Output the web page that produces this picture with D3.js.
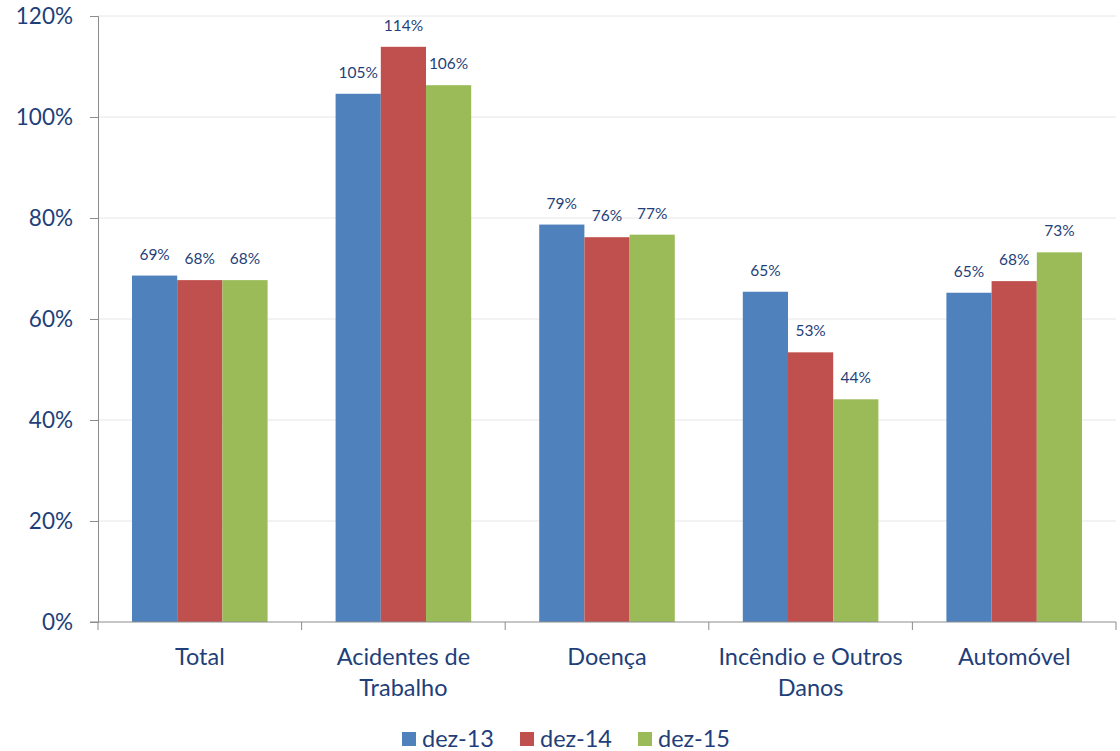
<!DOCTYPE html>
<html>
<head>
<meta charset="utf-8">
<script src="https://cdn.jsdelivr.net/npm/d3@7"></script>
<style>
  html, body { margin: 0; padding: 0; background: #fff; }
  svg { display: block; font-family: Lato, "Liberation Sans", sans-serif; }
</style>
</head>
<body>
<svg id="chart" width="1120" height="751"></svg>
<script>
// Claims ratio by line of business, three year-ends
const categories = [["Total"], ["Acidentes de", "Trabalho"], ["Doença"], ["Incêndio e Outros", "Danos"], ["Automóvel"]];
const seriesNames = ["dez-13", "dez-14", "dez-15"];
const dez13 = [0.686, 1.046, 0.787, 0.654, 0.652];
const dez14 = [0.677, 1.139, 0.762, 0.534, 0.675];
const dez15 = [0.677, 1.063, 0.767, 0.441, 0.732];
const yTicks = [0, 0.2, 0.4, 0.6, 0.8, 1.0, 1.2];
const colors = ["#4F81BD", "#C0504D", "#9BBB59"];
const textColor = "#1F3F7A";

const seriesValues = [dez13, dez14, dez15];
const svg = d3.select("#chart");
const plotLeft = 98, plotRight = 1116, plotTop = 16, plotBottom = 622;

const x = d3.scaleBand().domain(d3.range(categories.length)).range([plotLeft, plotRight]).paddingInner(0).paddingOuter(0);
const groupPad = 0.167;
const xs = d3.scaleBand().domain(d3.range(seriesNames.length))
  .range([x.bandwidth() * groupPad, x.bandwidth() * (1 - groupPad)]);
const y = d3.scaleLinear().domain([0, 1.2]).range([plotBottom, plotTop]);
const pct = d3.format(".0%");

// gridlines
svg.append("g").selectAll("line").data(yTicks.filter(d => d > 0)).join("line")
  .attr("x1", plotLeft).attr("x2", plotRight)
  .attr("y1", d => y(d)).attr("y2", d => y(d))
  .attr("stroke", "#e6e6e6").attr("stroke-width", 1);

// y axis
const yAxis = svg.append("g").attr("transform", `translate(${plotLeft},0)`)
  .call(d3.axisLeft(y).tickValues(yTicks).tickFormat(pct).tickSize(8).tickPadding(17));
yAxis.select(".domain").attr("stroke", "#8c8c8c");
yAxis.selectAll(".tick line").attr("stroke", "#8c8c8c");
yAxis.selectAll(".tick text").attr("fill", textColor).attr("font-size", 22.5)
  .attr("font-family", "Lato, sans-serif");

// bars
const groups = svg.append("g").selectAll("g").data(categories).join("g")
  .attr("transform", (d, i) => `translate(${x(i)},0)`);
groups.each(function(c, ci) {
  const g = d3.select(this);
  seriesValues.forEach((vals, si) => {
    const v = vals[ci];
    g.append("rect")
      .attr("x", xs(si)).attr("width", xs.bandwidth())
      .attr("y", y(v)).attr("height", y(0) - y(v))
      .attr("fill", colors[si]);
    g.append("text")
      .attr("x", xs(si) + xs.bandwidth() / 2)
      .attr("y", y(v) - 16)
      .attr("text-anchor", "middle")
      .attr("font-size", 15.5)
      .attr("fill", textColor)
      .text(pct(v));
  });
});

// x axis
const xAxisG = svg.append("g");
xAxisG.append("line").attr("x1", plotLeft - 8).attr("x2", plotRight).attr("y1", plotBottom).attr("y2", plotBottom)
  .attr("stroke", "#8c8c8c");
xAxisG.selectAll("line.tk").data(d3.range(categories.length + 1)).join("line").attr("class", "tk")
  .attr("x1", i => plotLeft + i * x.bandwidth()).attr("x2", i => plotLeft + i * x.bandwidth())
  .attr("y1", plotBottom).attr("y2", plotBottom + 8).attr("stroke", "#8c8c8c");
const catText = xAxisG.selectAll("text").data(categories).join("text")
  .attr("x", (d, i) => x(i) + x.bandwidth() / 2)
  .attr("y", 665)
  .attr("text-anchor", "middle")
  .attr("font-size", 23.5)
  .attr("fill", textColor);
catText.selectAll("tspan").data(d => d).join("tspan")
  .attr("x", function() { return this.parentNode.getAttribute("x"); })
  .attr("dy", (d, i) => i === 0 ? 0 : 31)
  .text(d => d);

// legend
const legendX = [402, 520, 638];
const legend = svg.append("g").selectAll("g").data(seriesNames).join("g")
  .attr("transform", (d, i) => `translate(${legendX[i]},732)`);
legend.append("rect").attr("width", 14).attr("height", 14).attr("fill", (d, i) => colors[i]);
legend.append("text").attr("x", 20).attr("y", 14.5).attr("font-size", 23.5)
  .attr("fill", textColor).text(d => d);
</script>
</body>
</html>
